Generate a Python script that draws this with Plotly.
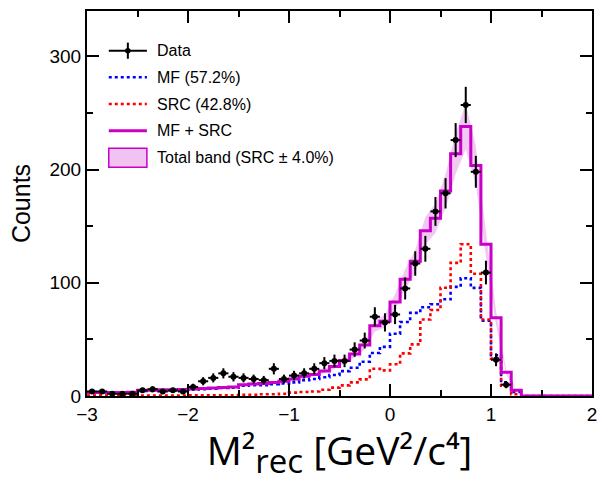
import plotly.graph_objects as go

# ---- data ----
bin_edges = [round(-3.0 + 0.1 * i, 2) for i in range(51)]
bin_centers = [round(-2.95 + 0.1 * i, 2) for i in range(50)]

# Data counts, bins centred at -2.95 ... 1.15
data_x = [round(-2.95 + 0.1 * i, 2) for i in range(42)]
data_y = [4, 4, 2, 2, 2, 5, 6, 4, 5, 4,
          8, 13, 16, 20, 17, 16, 15, 14, 24, 15,
          18, 20, 24, 29, 31, 31, 41, 49, 70, 65,
          72, 95, 117, 130, 163, 179, 226, 257, 198, 109,
          32, 10]

# SRC template (red dotted)
src = [0.4, 0.4, 0.4, 0.4, 0.4, 0.5, 0.5, 0.5, 0.5, 0.5,
       0.6, 0.6, 0.6, 0.6, 0.7, 1.0, 1.0, 1.5, 1.5, 2.0,
       3.0, 3.5, 4.0, 5.5, 7.4, 9.4, 12.0, 14.7, 24.0, 22.6,
       28.0, 37.6, 45.6, 67.6, 76.0, 95.6, 117.6, 134.0, 108.0, 67.6,
       33.0, 9.0, 1.5, 0, 0, 0, 0, 0, 0, 0]

# MF template (blue dotted)
mf = [2.6, 2.6, 2.8, 2.8, 3.0, 4.5, 4.5, 5.0, 5.0, 5.2,
      5.5, 6.0, 6.5, 7.0, 7.3, 9.0, 9.5, 9.5, 10.5, 11.0,
      12.0, 14.0, 15.0, 16.5, 18.6, 22.0, 25.0, 30.3, 38.0, 43.4,
      55.0, 65.4, 73.4, 78.4, 81.0, 85.4, 96.4, 104.0, 95.5, 66.4,
      36.0, 12.0, 3.5, 0, 0, 0, 0, 0, 0, 0]

# half-width of the total band at each bin centre
band_half = [0.3, 0.3, 0.3, 0.3, 0.3, 0.4, 0.4, 0.5, 0.5, 0.5,
             0.5, 0.6, 0.6, 0.7, 0.7, 0.9, 0.9, 1.0, 1.0, 1.1,
             1.3, 1.5, 1.6, 1.9, 2.2, 2.7, 3.1, 3.8, 5.0, 5.5,
             7.0, 9.0, 10.0, 12.0, 13.0, 15.0, 18.0, 20.0, 17.0, 11.0,
             6.0, 2.0, 0.5, 0, 0, 0, 0, 0, 0, 0]

legend_labels = ["Data", "MF (57.2%)", "SRC (42.8%)", "MF + SRC",
                 "Total band (SRC ± 4.0%)"]

total = [a + b for a, b in zip(mf, src)]

MAGENTA = "rgb(200,0,200)"
BAND = "rgba(205,40,205,0.25)"
BAND_LEG = "rgba(205,40,205,0.28)"
BLUE = "#0000ff"
RED = "#ff0000"
FONT = "Liberation Sans, Arial, sans-serif"

def steps(vals):
    return bin_edges, list(vals) + [vals[-1]]

fig = go.Figure()

# total band (smooth polygon through bin centres)
nb = 43
band_x = bin_centers[:nb]
fig.add_trace(go.Scatter(x=band_x, y=[t - h for t, h in zip(total[:nb], band_half[:nb])],
                         mode="lines", line=dict(width=0, color=BAND),
                         showlegend=False, hoverinfo="skip"))
fig.add_trace(go.Scatter(x=band_x, y=[t + h for t, h in zip(total[:nb], band_half[:nb])],
                         mode="lines", line=dict(width=0, color=BAND),
                         fill="tonexty", fillcolor=BAND,
                         showlegend=False, hoverinfo="skip"))

for vals, style in [(mf, dict(color=BLUE, width=2.6, dash="dot")),
                    (src, dict(color=RED, width=2.6, dash="dot")),
                    (total, dict(color=MAGENTA, width=3))]:
    sx, sy = steps(vals)
    fig.add_trace(go.Scatter(x=sx, y=sy, mode="lines", line_shape="hv",
                             line=style, showlegend=False))

# Data
fig.add_trace(go.Scatter(x=data_x, y=data_y, mode="markers",
                         marker=dict(color="black", size=6, symbol="circle"),
                         error_y=dict(type="data", array=[v ** 0.5 for v in data_y],
                                      color="black", thickness=2, width=0),
                         error_x=dict(type="constant", value=0.05,
                                      color="black", thickness=2, width=0),
                         showlegend=False))

# ---- legend (drawn in paper coordinates) ----
sx0, sx1, smid, tx = 0.0431, 0.1186, 0.0809, 0.1343
rows = [0.8969, 0.8278, 0.7584, 0.6891, 0.6187]
shapes = []
# Data symbol: line + vertical error bar + dot
shapes.append(dict(type="line", xref="paper", yref="paper", x0=sx0, x1=sx1,
                   y0=rows[0], y1=rows[0], line=dict(color="black", width=2)))
shapes.append(dict(type="line", xref="paper", yref="paper", x0=smid, x1=smid,
                   y0=rows[0] - 0.021, y1=rows[0] + 0.021, line=dict(color="black", width=2)))
shapes.append(dict(type="circle", xref="paper", yref="paper", x0=smid - 0.0055, x1=smid + 0.0055,
                   y0=rows[0] - 0.0072, y1=rows[0] + 0.0072,
                   fillcolor="black", line=dict(color="black", width=0)))
shapes.append(dict(type="line", xref="paper", yref="paper", x0=sx0, x1=sx1,
                   y0=rows[1], y1=rows[1], line=dict(color=BLUE, width=2.6, dash="dot")))
shapes.append(dict(type="line", xref="paper", yref="paper", x0=sx0, x1=sx1,
                   y0=rows[2], y1=rows[2], line=dict(color=RED, width=2.6, dash="dot")))
shapes.append(dict(type="line", xref="paper", yref="paper", x0=sx0, x1=sx1,
                   y0=rows[3], y1=rows[3], line=dict(color=MAGENTA, width=3)))
shapes.append(dict(type="rect", xref="paper", yref="paper", x0=sx0, x1=sx1,
                   y0=rows[4] - 0.0247, y1=rows[4] + 0.0247,
                   fillcolor=BAND_LEG, line=dict(color=MAGENTA, width=1.5)))
annotations = [dict(xref="paper", yref="paper", x=tx, y=r, text=t, showarrow=False,
                    xanchor="left", yanchor="middle",
                    font=dict(family=FONT, size=16, color="black"))
               for r, t in zip(rows, legend_labels)]

axis_common = dict(showline=True, linecolor="black", linewidth=2, mirror="allticks",
                   ticks="inside", ticklen=12, tickwidth=1.5, tickcolor="black",
                   showgrid=False, zeroline=False,
                   tickfont=dict(family=FONT, size=19, color="black"))

fig.update_xaxes(range=[-3, 2], dtick=1, tick0=0, ticklabeloverflow="allow",
                 minor=dict(dtick=0.5, ticks="inside", ticklen=6, tickcolor="black", tickwidth=1.5),
                 title=dict(text="M²<sub><span style='font-size:33px'>rec</span></sub> [GeV²/c⁴]",
                            font=dict(family="Open Sans, sans-serif", size=39, color="black"),
                            standoff=24),
                 **axis_common)
fig.update_yaxes(range=[0, 340], dtick=100, tick0=0,
                 minor=dict(dtick=50, ticks="inside", ticklen=6, tickcolor="black", tickwidth=1.5),
                 title=dict(text="Counts", font=dict(family=FONT, size=25, color="black"),
                            standoff=12),
                 **axis_common)

fig.update_layout(
    width=599, height=483,
    margin=dict(l=87, r=2, t=11, b=87),
    plot_bgcolor="white", paper_bgcolor="white",
    showlegend=False,
    shapes=shapes, annotations=annotations,
)

fig.write_html("out.html")
